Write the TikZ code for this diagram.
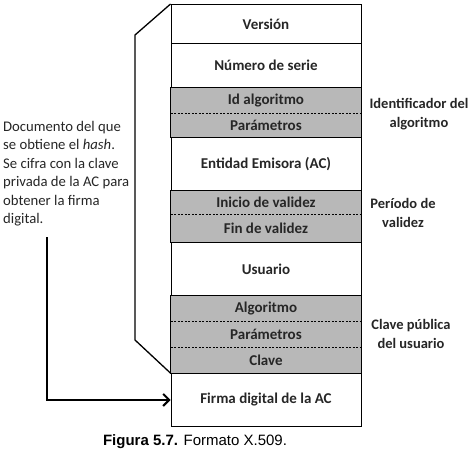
\documentclass[tikz,border=0pt]{standalone}
\usepackage{fontspec}
\setmainfont{Carlito}
\newfontfamily\capfont{Liberation Sans}
\usetikzlibrary{arrows.meta}
\definecolor{rowgray}{gray}{0.72}
\tikzset{
  row/.style={rectangle, minimum width=190pt, inner sep=0pt, anchor=north,
    font=\bfseries\fontsize{15}{17}\selectfont, text=black!85},
  whiterow/.style={row, draw, line width=0.9pt},
  grayrow/.style={row, fill=rowgray},
  sep/.style={dashed, line width=0.6pt, dash pattern=on 2pt off 1.5pt},
  frame/.style={line width=0.9pt},
  bracket/.style={line width=1.3pt},
  label/.style={font=\bfseries\fontsize{14.5}{19}\selectfont, align=center, text=black!85},
}
\begin{document}
\begin{tikzpicture}[x=1pt,y=-1pt]
\useasboundingbox (0,0) rectangle (474,461);
\node[whiterow, minimum height=39pt] (r1) at (266,4) {Versión};
\node[whiterow, minimum height=44pt] (r2) at (266,43) {Número de serie};
\node[grayrow, minimum height=26pt] (r3) at (266,87) {Id algoritmo};
\node[grayrow, minimum height=24pt] (r4) at (266,113) {Parámetros};
\node[whiterow, minimum height=53pt] (r5) at (266,137) {Entidad Emisora (AC)};
\node[grayrow, minimum height=24pt] (r6) at (266,190) {Inicio de validez};
\node[grayrow, minimum height=28pt] (r7) at (266,214) {Fin de validez};
\node[whiterow, minimum height=53pt] (r8) at (266,242) {Usuario};
\node[grayrow, minimum height=26pt] (r9) at (266,295) {Algoritmo};
\node[grayrow, minimum height=26pt] (r10) at (266,321) {Parámetros};
\node[grayrow, minimum height=26pt] (r11) at (266,347) {Clave};
\node[whiterow, minimum height=53pt] (r12) at (266,373) {Firma digital de la AC};
% gray group frames and dashed separators
\draw[frame] (r3.north west) rectangle (r4.south east);
\draw[sep] (r3.south west) -- (r3.south east);
\draw[frame] (r6.north west) rectangle (r7.south east);
\draw[sep] (r6.south west) -- (r6.south east);
\draw[frame] (r9.north west) rectangle (r11.south east);
\draw[sep] (r9.south west) -- (r9.south east);
\draw[sep] (r10.south west) -- (r10.south east);
% bracket
\coordinate (b1) at (135,35);
\coordinate (b2) at (135,340);
\draw[bracket] (r1.north west) -- (b1) -- (b2) -- (r11.south west);
% left text and arrow
\node[anchor=north west, inner sep=0pt, align=left, text=black!85,
  font=\fontsize{14.7}{18.5}\selectfont] (doc) at (3,121)
  {Documento del que\\se obtiene el \textit{hash}.\\Se cifra con la clave\\privada de la AC para\\obtener la firma\\digital.};
\coordinate (s) at (47,237);
\draw[line width=2pt, -{Straight Barb[length=6pt,width=12pt]}] (s) |- (r12.west);
% right labels
\node[label] (l1) at (419,114) {Identificador del\\algoritmo};
\node[label] (l2) at (403,213) {Período de\\validez};
\node[label] (l3) at (411,334) {Clave pública\\del usuario};
% caption
\node[font=\capfont\fontsize{15}{17}\selectfont] (cap) at (195,442) {\textbf{Figura 5.7.} Formato X.509.};
\end{tikzpicture}
\end{document}
